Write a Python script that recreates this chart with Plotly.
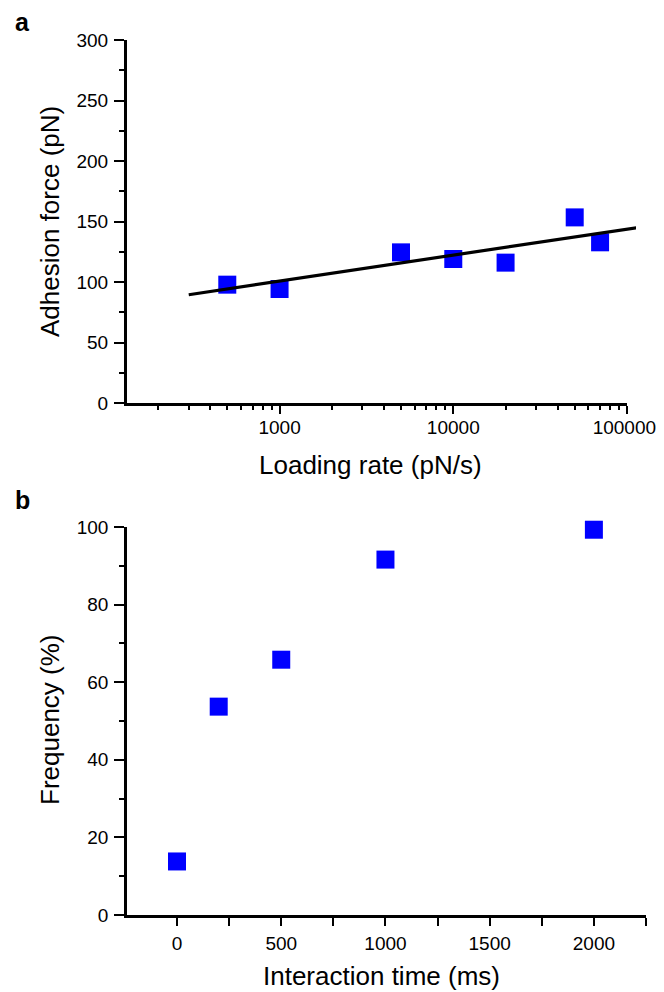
import plotly.graph_objects as go

# ---- data ----
loading_rate = [500, 1000, 5000, 10000, 20000, 50000, 70000]
adhesion_force = [97.8, 94.2, 124.5, 119, 116, 153.4, 132.8]
fit_rate = [300, 115000]
fit_force = [89.5, 145.0]

interaction_time = [0, 200, 500, 1000, 2000]
frequency = [13.8, 53.7, 65.8, 91.6, 99.3]

a_xticks = [1000, 10000, 100000]
a_xticktext = ["1000", "10000", "100000\u00a0"]
a_minor = [k * 10 ** e for e in (2, 3, 4) for k in range(2, 10)]
b_xticks = [0, 500, 1000, 1500, 2000]

W, H = 664, 992
FONT = "Liberation Sans, Arial, sans-serif"
BLUE = "#0000ff"


def px(x):
    return x / W


def py(y):
    return 1 - y / H


fig = go.Figure()

fig.add_trace(go.Scatter(x=loading_rate, y=adhesion_force, mode="markers",
                         marker=dict(symbol="square", size=18, color=BLUE),
                         xaxis="x", yaxis="y", showlegend=False, cliponaxis=False))
fig.add_trace(go.Scatter(x=interaction_time, y=frequency, mode="markers",
                         marker=dict(symbol="square", size=18, color=BLUE),
                         xaxis="x2", yaxis="y2", showlegend=False, cliponaxis=False))
fig.add_trace(go.Scatter(x=fit_rate, y=fit_force, mode="lines",
                         line=dict(color="black", width=3.2),
                         xaxis="x3", yaxis="y", showlegend=False))

axis_common = dict(showline=True, linecolor="black", linewidth=2.5, ticks="outside",
                   tickcolor="black", tickwidth=2, ticklen=8, showgrid=False,
                   zeroline=False, automargin=False, ticklabeloverflow="allow",
                   tickfont=dict(family=FONT, size=19, color="black"))

ax_a_l, ax_a_r = 126.7, 627
ax_b_l, ax_b_r = 127, 646

yminor = dict(ticks="outside", ticklen=5, tickwidth=2, tickcolor="black")

fig.update_layout(
    width=W, height=H,
    margin=dict(l=0, r=0, t=0, b=0, pad=0),
    paper_bgcolor="white", plot_bgcolor="rgba(0,0,0,0)",
    font=dict(family=FONT, color="black"),
    xaxis=dict(axis_common, type="log", domain=[px(ax_a_l), px(ax_a_r)],
               range=[2.12, 5.0], tickmode="array", tickvals=a_xticks,
               ticktext=a_xticktext, anchor="y", ticklabelstandoff=-3,
               minor=dict(tickmode="array", tickvals=a_minor, ticks="outside",
                          ticklen=4, tickwidth=2, tickcolor="black")),
    yaxis=dict(axis_common, domain=[py(403), py(40)], range=[0, 300], dtick=50,
               anchor="x", ticklen=10, ticklabelstandoff=2,
               minor=dict(yminor, dtick=25)),
    xaxis3=dict(type="log", domain=[px(ax_a_l), px(ax_a_r + 9)],
                range=[2.12, 5.0 + 9 / ((ax_a_r - ax_a_l) / 2.88)],
                visible=False, anchor="y", showgrid=False, zeroline=False,
                automargin=False),
    xaxis2=dict(axis_common, domain=[px(ax_b_l), px(ax_b_r)], range=[-240, 2250],
                tickmode="array", tickvals=b_xticks, anchor="y2",
                ticklabelstandoff=1,
                minor=dict(dtick=250, tick0=0, ticks="outside", ticklen=8,
                           tickwidth=2, tickcolor="black")),
    yaxis2=dict(axis_common, domain=[py(915), py(527)], range=[0, 100], dtick=20,
                anchor="x2", ticklen=10, ticklabelstandoff=2,
                minor=dict(yminor, dtick=10)),
)

ann = [
    dict(text="<b>a</b>", x=px(22), y=py(22), size=25),
    dict(text="<b>b</b>", x=px(22), y=py(500), size=25),
    dict(text="Loading rate (pN/s)", x=px(370), y=py(465), size=26),
    dict(text="Interaction time (ms)", x=px(381), y=py(976), size=26),
]
for a in ann:
    fig.add_annotation(text=a["text"], x=a["x"], y=a["y"], xref="paper", yref="paper",
                       showarrow=False, xanchor="center", yanchor="middle",
                       font=dict(family=FONT, size=a["size"], color="black"))

for text, x, y in [("Adhesion force (pN)", 50, 222), ("Frequency (%)", 50, 720)]:
    fig.add_annotation(text=text, x=px(x), y=py(y), xref="paper", yref="paper",
                       showarrow=False, textangle=-90, xanchor="center",
                       yanchor="middle",
                       font=dict(family=FONT, size=26, color="black"))

fig.write_html("out.html",
               config={"displayModeBar": False},
               post_script="document.body.style.margin='0';"
                           "document.body.style.overflow='hidden';")
